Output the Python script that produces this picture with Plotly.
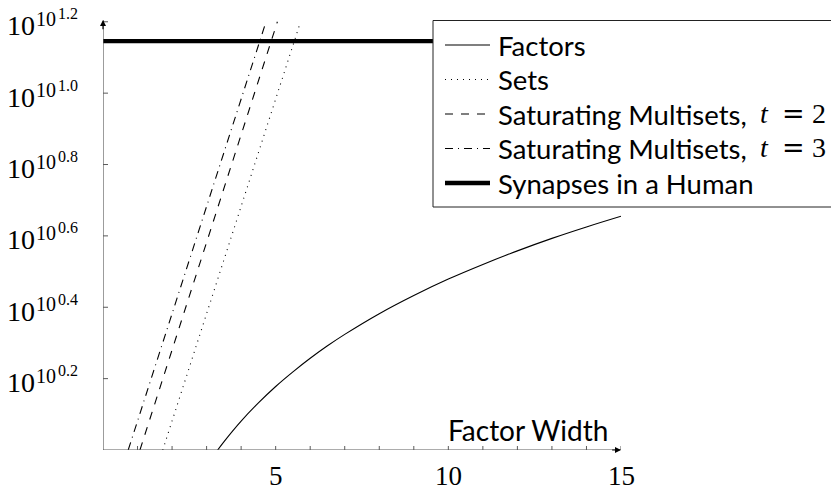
import plotly.graph_objects as go

# ---- data (y is the exponent e in 10^(10^e)) ----
x_factors = [3.32, 3.5, 4, 4.5, 5, 5.5, 6, 6.5, 7, 8, 9, 10, 11, 12, 13, 14, 15]
y_factors = [0.0, 0.023, 0.081, 0.132, 0.178, 0.219, 0.257, 0.292, 0.324, 0.382, 0.433,
             0.479, 0.520, 0.558, 0.593, 0.625, 0.655]
x_sets = [1.73, 5.72]
y_sets = [0.0, 1.2]
x_sat2 = [1.07, 5.05]
y_sat2 = [0.0, 1.2]
x_sat3 = [0.73, 4.72]
y_sat3 = [0.0, 1.2]
x_syn = [0, 15]
y_syn = [1.146, 1.146]

series_names = ["Factors", "Sets", "Saturating Multisets, t = 2",
                "Saturating Multisets, t = 3", "Synapses in a Human"]

y_tickvals = [0.2, 0.4, 0.6, 0.8, 1.0, 1.2]
y_tickexp = ["0.2", "0.4", "0.6", "0.8", "1.0", "1.2"]
x_minor_ticks = list(range(1, 16))
x_tickvals = [5, 10, 15]
x_ticktext = ["5", "10", "15"]

XMAX = 15
YMAX = 1.205

SERIF = "Liberation Serif"
SANS = "Lato"

# page has an 8px body margin: plot area in page pixels is x 103..621, y 20..450
FIG_W, FIG_H = 831, 480
ML, MT = 95, 12
PW, PH = 518, 430
OFF = 8


def px_x(p):  # page pixel -> paper x
    return (p - OFF - ML) / PW


def px_y(p):  # page pixel -> paper y
    return (OFF + MT + PH - p) / PH


styles = [
    dict(color="black", width=1.1),
    dict(color="black", width=1.1, dash="1px,5px"),
    dict(color="black", width=1.1, dash="8px,8px"),
    dict(color="black", width=1.1, dash="8px,5px,1px,5px"),
    dict(color="black", width=4.3),
]
xs = [x_factors, x_sets, x_sat2, x_sat3, x_syn]
ys = [y_factors, y_sets, y_sat2, y_sat3, y_syn]

fig = go.Figure()
for i, (x, y, nm, st) in enumerate(zip(xs, ys, series_names, styles)):
    fig.add_trace(go.Scatter(x=x, y=y, mode="lines", name=nm, line=st, showlegend=False,
                             line_shape="spline" if i == 0 else "linear"))

shapes = []
axis_col = "#5a5a5a"
shapes.append(dict(type="line", xref="x", yref="y", x0=0, x1=XMAX, y0=0, y1=0,
                   line=dict(color=axis_col, width=1.2)))
shapes.append(dict(type="line", xref="x", yref="y", x0=0, x1=0, y0=0, y1=YMAX,
                   line=dict(color=axis_col, width=1.2)))
for v in x_minor_ticks:
    shapes.append(dict(type="line", xref="x", yref="y", ysizemode="pixel", yanchor=0,
                       x0=v, x1=v, y0=-4, y1=4, line=dict(color=axis_col, width=1)))
for v in y_tickvals:
    shapes.append(dict(type="line", xref="x", yref="y", xsizemode="pixel", xanchor=0,
                       x0=-5, x1=5, y0=v, y1=v, line=dict(color=axis_col, width=1)))

ann = []
# arrowheads
ann.append(dict(x=XMAX, y=0, ax=XMAX - 0.3, ay=0, axref="x", ayref="y", xref="x", yref="y",
                text="", showarrow=True, arrowhead=2, arrowsize=1, arrowwidth=1.2,
                arrowcolor="black", standoff=0))
ann.append(dict(x=0, y=YMAX, ax=0, ay=YMAX - 0.03, axref="x", ayref="y", xref="x", yref="y",
                text="", showarrow=True, arrowhead=2, arrowsize=1, arrowwidth=1.2,
                arrowcolor="black", standoff=0))
# y tick labels 10^{10^{e}}
for v, e in zip(y_tickvals, y_tickexp):
    ann.append(dict(x=px_x(36), xref="paper", y=v, yref="y", text="10", showarrow=False,
                    xanchor="right", yanchor="middle", yshift=-4, borderpad=0,
                    font=dict(family=SERIF, size=28, color="black")))
    ann.append(dict(x=px_x(35), xref="paper", y=v, yref="y", text="10", showarrow=False,
                    xanchor="left", yanchor="middle", yshift=3, borderpad=0,
                    font=dict(family=SERIF, size=20, color="black")))
    ann.append(dict(x=px_x(57), xref="paper", y=v, yref="y", text=e, showarrow=False,
                    xanchor="left", yanchor="middle", yshift=8, borderpad=0,
                    font=dict(family=SERIF, size=16, color="black")))
# x tick labels
for v, t in zip(x_tickvals, x_ticktext):
    ann.append(dict(x=v, xref="x", y=0, yref="y", text=t, showarrow=False,
                    xanchor="center", yanchor="middle", yshift=-26, borderpad=0,
                    font=dict(family=SERIF, size=27, color="black")))
# axis title
ann.append(dict(x=XMAX, xref="x", y=0, yref="y", text="Factor Width", showarrow=False,
                xanchor="right", yanchor="bottom", xshift=-11, yshift=1,
                font=dict(family=SANS, size=28, color="black")))

# ---- legend (drawn by hand; it runs past the right edge, as in the reference) ----
LEG_L, LEG_T, LEG_B = 433, 20.5, 207
shapes.append(dict(type="rect", xref="paper", yref="paper", layer="above",
                   x0=px_x(LEG_L), x1=px_x(900), y0=px_y(LEG_B), y1=px_y(LEG_T),
                   fillcolor="white", line=dict(color="#222", width=1)))
row_y = [45, 79.5, 114, 148.5, 183]

for nm, st, ry in zip(series_names, styles, row_y):
    shapes.append(dict(type="line", xref="paper", yref="paper", layer="above",
                       x0=px_x(445), x1=px_x(490), y0=px_y(ry), y1=px_y(ry), line=st))
    if ", t = " in nm:
        head, val = nm.split(", t = ")
        ann.append(dict(x=px_x(497), xref="paper", y=px_y(ry), yref="paper", text=head + ",",
                        showarrow=False, xanchor="left", yanchor="middle", borderpad=0,
                        font=dict(family=SANS, size=27.5, color="black")))
        ann.append(dict(x=px_x(759), xref="paper", y=px_y(ry), yref="paper", text="<i>t</i>",
                        showarrow=False, xanchor="left", yanchor="middle", borderpad=0, yshift=1,
                        font=dict(family=SERIF, size=28, color="black")))
        ann.append(dict(x=px_x(793), xref="paper", y=px_y(ry), yref="paper", text="=",
                        showarrow=False, xanchor="center", yanchor="middle", borderpad=0, yshift=1,
                        font=dict(family="DejaVu Serif", size=27, color="black")))
        ann.append(dict(x=px_x(819), xref="paper", y=px_y(ry), yref="paper", text=val,
                        showarrow=False, xanchor="center", yanchor="middle", borderpad=0, yshift=1,
                        font=dict(family=SERIF, size=28, color="black")))
    else:
        ann.append(dict(x=px_x(497), xref="paper", y=px_y(ry), yref="paper", text=nm,
                        showarrow=False, xanchor="left", yanchor="middle", borderpad=0,
                        font=dict(family=SANS, size=27.5, color="black")))

fig.update_layout(
    width=FIG_W, height=FIG_H,
    margin=dict(l=ML, r=FIG_W - ML - PW, t=MT, b=FIG_H - MT - PH, pad=0, autoexpand=False),
    paper_bgcolor="white", plot_bgcolor="white",
    xaxis=dict(range=[0, XMAX], showgrid=False, zeroline=False, showline=False,
               showticklabels=False, ticks=""),
    yaxis=dict(range=[0, YMAX], showgrid=False, zeroline=False, showline=False,
               showticklabels=False, ticks=""),
    shapes=shapes,
    annotations=ann,
    showlegend=False,
)

fig.write_html("out.html")
